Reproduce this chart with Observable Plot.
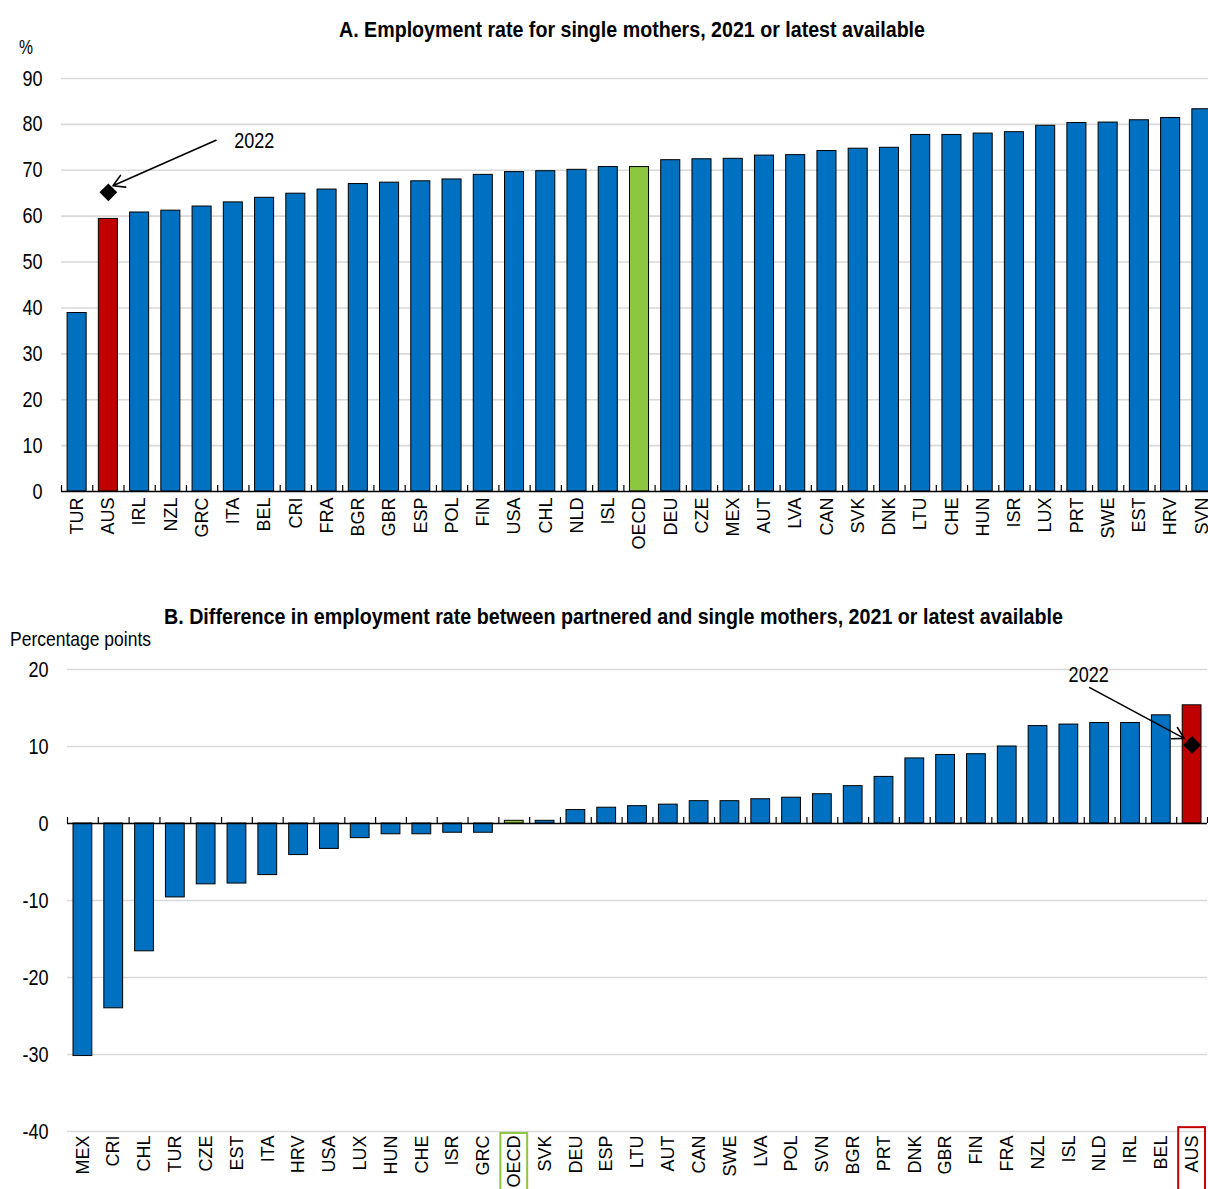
<!DOCTYPE html>
<html>
<head>
<meta charset="utf-8">
<script src="https://cdn.jsdelivr.net/npm/d3@7"></script>
<script src="https://cdn.jsdelivr.net/npm/@observablehq/plot@0.6"></script>
<style>
  html, body { margin: 0; padding: 0; background: #fff; }
  #wrap { position: relative; width: 1208px; height: 1189px; overflow: hidden; background: #fff; }
  #wrap svg { position: absolute; left: 0; }
  .t { position: absolute; white-space: nowrap; color: #000; line-height: 1; transform-origin: 0 0; }
</style>
</head>
<body>
<div id="wrap"></div>
<script>
// ---------- Data ----------
const titleA = "A. Employment rate for single mothers, 2021 or latest available";
const titleB = "B. Difference in employment rate between partnered and single mothers, 2021 or latest available";
const unitA = "%";
const unitB = "Percentage points";
const noteLabel = "2022";

const catsA = ["TUR","AUS","IRL","NZL","GRC","ITA","BEL","CRI","FRA","BGR","GBR","ESP","POL","FIN","USA","CHL","NLD","ISL","OECD","DEU","CZE","MEX","AUT","LVA","CAN","SVK","DNK","LTU","CHE","HUN","ISR","LUX","PRT","SWE","EST","HRV","SVN"];
const valsA = [38.9,59.4,60.8,61.2,62.1,63.0,64.0,64.9,65.8,67.0,67.3,67.6,68.0,69.0,69.6,69.8,70.1,70.7,70.7,72.2,72.4,72.5,73.2,73.3,74.2,74.7,74.9,77.7,77.7,78.0,78.3,79.7,80.3,80.4,80.9,81.4,83.3];
const aus2022A = 65.2;
const yTicksA = [0,10,20,30,40,50,60,70,80,90];

const catsB = ["MEX","CRI","CHL","TUR","CZE","EST","ITA","HRV","USA","LUX","HUN","CHE","ISR","GRC","OECD","SVK","DEU","ESP","LTU","AUT","CAN","SWE","LVA","POL","SVN","BGR","PRT","DNK","GBR","FIN","FRA","NZL","ISL","NLD","IRL","BEL","AUS"];
const valsB = [-30.2,-24.0,-16.6,-9.6,-7.9,-7.8,-6.7,-4.1,-3.3,-1.9,-1.4,-1.4,-1.2,-1.2,0.35,0.35,1.75,2.05,2.25,2.45,2.9,2.9,3.15,3.35,3.8,4.85,6.05,8.45,8.9,9.0,10.0,12.65,12.85,13.05,13.05,14.05,15.35];
const aus2022B = 10.2;
const yTicksB = [-40,-30,-20,-10,0,10,20];

const colors = { base: "#0070C0", AUS: "#C00000", OECD: "#8DC63F", grid: "#D9D9D9" };

// ---------- Fonts ----------
const cnv = document.createElement("canvas").getContext("2d");
function hasFont(name) {
  cnv.font = `40px monospace`; const w0 = cnv.measureText("abcdefghijklmnopqrstuvwxyz0123456789").width;
  cnv.font = `40px "${name}", monospace`; const w1 = cnv.measureText("abcdefghijklmnopqrstuvwxyz0123456789").width;
  return Math.abs(w0 - w1) > 0.5;
}
const narrowName = ["Liberation Sans Narrow", "Arial Narrow"].find(hasFont);
const regular = '"Liberation Sans", Arimo, Arial, sans-serif';
const narrow = narrowName ? `"${narrowName}", ${regular}` : regular;
const squeeze = narrowName ? 1 : 0.82; // Arial Narrow ≈ 0.82 × Arial width

const fillOf = c => c === "AUS" ? colors.AUS : c === "OECD" ? colors.OECD : colors.base;

const wrap = document.getElementById("wrap");
function measure(txt, font) { cnv.font = font; return cnv.measureText(txt).width; }
// place text: anchor x (left or center), y top, fitted to a target width
function addText(txt, {x, top, size, bold, width, center}) {
  const d = document.createElement("div");
  d.className = "t";
  d.textContent = txt;
  const font = `${bold ? "bold " : ""}${size}px ${narrow}`;
  d.style.font = font;
  d.style.lineHeight = "1";
  const w = measure(txt, font);
  const s = width / w;
  const left = center ? x - width / 2 : x;
  d.style.left = left + "px";
  d.style.top = top + "px";
  d.style.transform = `scaleX(${s})`;
  wrap.appendChild(d);
}
function squeezeTexts(svg, selector) {
  if (squeeze === 1) return;
  svg.querySelectorAll(selector).forEach(t => {
    const L = t.getComputedTextLength();
    if (L > 0) { t.setAttribute("textLength", L * squeeze); t.setAttribute("lengthAdjust", "spacingAndGlyphs"); }
  });
}

// ---------- Panel A ----------
const dataA = catsA.map((c, i) => ({c, v: valsA[i]}));
const rangeA = [61, 1217];
const stepA = (rangeA[1] - rangeA[0]) / catsA.length;
const pxA = (491 - 78) / 90;

const plotA = Plot.plot({
  width: 1208, height: 560,
  marginTop: 78, marginBottom: 69, marginLeft: 61, marginRight: 0,
  style: { fontFamily: regular, fontSize: "18px", color: "#000", background: "transparent" },
  x: { domain: catsA, range: rangeA, paddingInner: 0.39, paddingOuter: 0.195, round: false, label: null },
  y: { domain: [0, 90], label: null },
  color: { type: "identity" },
  marks: [
    Plot.ruleY(yTicksA.filter(d => d !== 0), { stroke: colors.grid, strokeWidth: 1.6 }),
    Plot.barY(dataA, { x: "c", y: "v", fill: d => fillOf(d.c), stroke: "#000", strokeWidth: 1 }),
    Plot.ruleY([0], { stroke: "#000", strokeWidth: 1.5 }),
    Plot.ruleX(catsA, { x: d => d, y1: 0, y2: 6 / pxA, dx: -stepA / 2, stroke: "#000", strokeWidth: 1.2 }),
    Plot.ruleX(catsA.slice(-1), { x: d => d, y1: 0, y2: 6 / pxA, dx: stepA / 2, stroke: "#000", strokeWidth: 1.2 }),
    Plot.axisY({ ticks: yTicksA, tickSize: 0, tickPadding: 19, fontFamily: narrow, fontSize: 22, tickFormat: d => String(d) }),
    Plot.axisX({ tickSize: 0, tickRotate: -90, tickPadding: 6, fontSize: 18, fontFamily: regular }),
    Plot.arrow([{x1: "ITA", y1: 78.2, x2: "AUS", y2: 66.2}], {
      x1: "x1", y1: "y1", x2: "x2", y2: "y2", insetStart: 19, insetEnd: 5,
      stroke: "#000", strokeWidth: 1.6, headLength: 12
    }),
    Plot.dot([{c: "AUS", v: aus2022A}], { x: "c", y: "v", symbol: "diamond2", r: 8, fill: "#000", stroke: "none" }),
    Plot.text([{c: "ITA", v: 76.3}], { x: "c", y: "v", text: () => noteLabel, dx: 21, fontFamily: narrow, fontSize: 22, fill: "#000" })
  ]
});
plotA.style.top = "0px";
wrap.appendChild(plotA);

// ---------- Panel B ----------
const dataB = catsB.map((c, i) => ({c, v: valsB[i]}));
const rangeB = [67, 1207];
const stepB = (rangeB[1] - rangeB[0]) / catsB.length;
const pxB = (1131 - 669) / 60;
const boxes = [
  {c: "OECD", y1: -40.25, y2: -48, s: colors.OECD},
  {c: "AUS", y1: -39.5, y2: -48, s: colors.AUS}
];

const plotB = Plot.plot({
  width: 1208, height: 629,
  marginTop: 109, marginBottom: 58, marginLeft: 67, marginRight: 1,
  style: { fontFamily: regular, fontSize: "18px", color: "#000", background: "transparent" },
  x: { domain: catsB, range: rangeB, paddingInner: 0.39, paddingOuter: 0.195, round: false, label: null },
  y: { domain: [-40, 20], label: null },
  color: { type: "identity" },
  marks: [
    Plot.ruleY(yTicksB.filter(d => d !== 0), { stroke: colors.grid, strokeWidth: 1.6 }),
    Plot.barY(dataB, { x: "c", y: "v", fill: d => fillOf(d.c), stroke: "#000", strokeWidth: 1 }),
    Plot.ruleY([0], { stroke: "#000", strokeWidth: 1.5 }),
    Plot.ruleX(catsB, { x: d => d, y1: 0, y2: 6 / pxB, dx: -stepB / 2, stroke: "#000", strokeWidth: 1.2 }),
    Plot.ruleX(catsB.slice(-1), { x: d => d, y1: 0, y2: 6 / pxB, dx: stepB / 2, stroke: "#000", strokeWidth: 1.2 }),
    Plot.axisY({ ticks: yTicksB, tickSize: 0, tickPadding: 19, fontFamily: narrow, fontSize: 22, tickFormat: d => String(d) }),
    Plot.axisX({ tickSize: 0, tickRotate: -90, tickPadding: 4, fontSize: 18, fontFamily: regular }),
    Plot.barY(boxes, { x: "c", y1: "y1", y2: "y2", fill: "none", stroke: "s", strokeWidth: 2, insetLeft: -4, insetRight: -4 }),
    Plot.arrow([{x1: "ISL", y1: 19.1, x2: "AUS", y2: 10.5}], {
      x1: "x1", y1: "y1", x2: "x2", y2: "y2", insetStart: 23.7, insetEnd: 9,
      stroke: "#000", strokeWidth: 1.6, headLength: 12
    }),
    Plot.dot([{c: "AUS", v: aus2022B}], { x: "c", y: "v", symbol: "diamond2", r: 8, fill: "#000", stroke: "none" }),
    Plot.text([{c: "NLD", v: 19.3}], { x: "c", y: "v", text: () => noteLabel, dx: -11, fontFamily: narrow, fontSize: 22, fill: "#000" })
  ]
});
plotB.style.top = "560px";
wrap.appendChild(plotB);

// squeeze narrow-font texts (y tick labels and "2022") if no condensed font is installed
for (const svg of [plotA, plotB]) {
  squeezeTexts(svg, 'g[aria-label="y-axis tick label"] text');
  squeezeTexts(svg, 'g[aria-label="text"] text');
}

// ---------- Titles and units ----------
addText(titleA, { x: 632, top: 19, size: 22, bold: true, width: 586, center: true });
addText(unitA, { x: 19, top: 36, size: 21, width: 14 });
addText(titleB, { x: 613, top: 606, size: 22, bold: true, width: 899, center: true });
addText(unitB, { x: 10, top: 628, size: 21, width: 141 });
</script>
</body>
</html>
